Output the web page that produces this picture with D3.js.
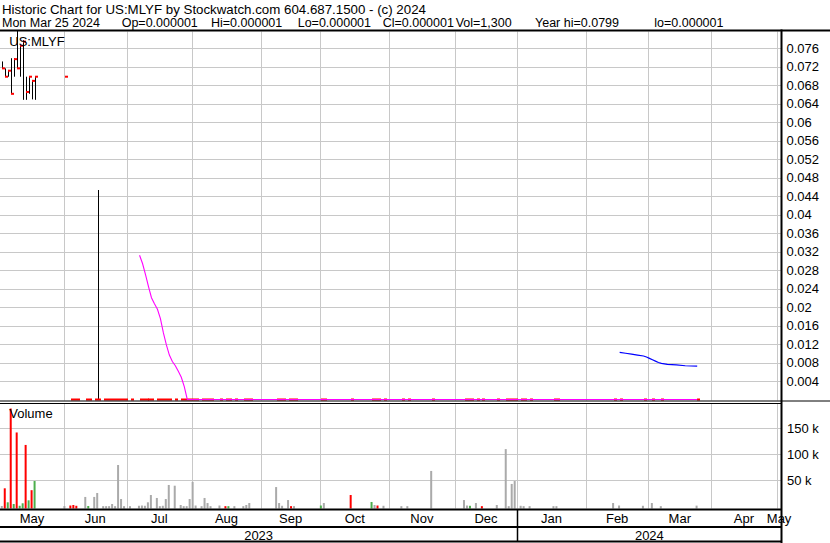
<!DOCTYPE html>
<html><head><meta charset="utf-8">
<script src="https://cdn.jsdelivr.net/npm/d3@7"></script>
<style>
body{margin:0;background:#fff}
svg{display:block}
text{font-family:"Liberation Sans",Arial,sans-serif;fill:#000}
</style>
</head><body>
<svg id="c" width="830" height="543"></svg>
<script>
// ---------------- DATA ----------------
const titleLine1 = "Historic Chart for US:MLYF by Stockwatch.com 604.687.1500 - (c) 2024";
const infoItems = ["Mon Mar 25 2024","Op=0.000001","Hi=0.000001","Lo=0.000001","Cl=0.000001","Vol=1,300","Year hi=0.0799","lo=0.000001"];
const symbolLabel = "US:MLYF";
const volumeLabel = "Volume";

const priceTicks = [0.004,0.008,0.012,0.016,0.02,0.024,0.028,0.032,0.036,0.04,0.044,0.048,0.052,0.056,0.06,0.064,0.068,0.072,0.076];
const volumeTicks = [50000,100000,150000];
const volumeTickLabels = ["50 k","100 k","150 k"];

const monthStarts = ["2023-05-01","2023-06-01","2023-07-01","2023-08-01","2023-09-01","2023-10-01","2023-11-01","2023-12-01","2024-01-01","2024-02-01","2024-03-01","2024-04-01","2024-05-01"];
const monthLabels = ["May","Jun","Jul","Aug","Sep","Oct","Nov","Dec","Jan","Feb","Mar","Apr","May"];
const yearStarts = ["2023-01-01","2024-01-01"];
const yearLabels = ["2023","2024"];

// trading days
const tradeDates = [
 "2023-05-03","2023-05-04","2023-05-05","2023-05-08","2023-05-09","2023-05-10","2023-05-11","2023-05-12",
 "2023-05-15","2023-05-16","2023-05-17","2023-05-18","2023-06-01",
 "2023-06-05","2023-06-06","2023-06-07","2023-06-12","2023-06-13","2023-06-15","2023-06-16",
 "2023-06-20","2023-06-21","2023-06-22","2023-06-23","2023-06-26","2023-06-27","2023-06-28","2023-06-29",
 "2023-07-03","2023-07-06","2023-07-07","2023-07-10","2023-07-11","2023-07-12","2023-07-14","2023-07-17",
 "2023-07-18","2023-07-19","2023-07-20","2023-07-24","2023-07-26","2023-07-27","2023-07-28","2023-07-31",
 "2023-08-01","2023-08-02","2023-08-04","2023-08-07","2023-08-08","2023-08-09","2023-08-14","2023-08-16",
 "2023-08-17","2023-08-21","2023-08-24","2023-08-25","2023-08-28",
 "2023-09-08","2023-09-11","2023-09-12","2023-09-14","2023-09-15","2023-09-18","2023-09-29",
 "2023-10-02","2023-10-13","2023-10-24","2023-10-25","2023-10-26","2023-10-30",
 "2023-11-07","2023-11-09","2023-11-21",
 "2023-12-06","2023-12-07","2023-12-08","2023-12-12","2023-12-14","2023-12-21","2023-12-26","2023-12-27",
 "2023-12-28","2023-12-29",
 "2024-01-02","2024-01-03","2024-01-05","2024-01-17","2024-01-18",
 "2024-02-14","2024-02-16","2024-02-28","2024-03-04","2024-03-07","2024-03-25"
];
const volumes = [
 600,34600,7700,188000,4400,142000,1000,5800,
 118000,11500,31000,48600,500,
 1500,2500,1000,18000,600,18000,25600,
 300,300,300,4400,300,79400,14000,300,
 300,1000,1500,1000,7700,21700,16000,300,
 1000,14000,41000,39600,2500,300,300,14000,
 47000,1500,300,16000,6300,300,1500,300,
 300,300,300,2500,6300,
 37000,6300,1000,12000,300,300,1500,
 6300,21700,8300,2500,1500,1000,
 300,300,68000,
 12000,1500,1000,6300,300,2500,110000,300,
 43000,48600,
 1000,300,300,300,300,
 6300,1500,1000,6300,300,1300
];
// d = down (red), u = up (green), n = unchanged (grey)
const volDir = [
 "n","d","u","d","u","d","u","u",
 "d","u","d","u","n",
 "d","d","d","n","u","n","n",
 "n","n","n","n","n","n","n","n",
 "n","n","n","n","n","n","n","n",
 "n","n","n","n","n","n","n","n",
 "n","n","n","n","n","n","n","d",
 "u","n","n","n","n",
 "n","n","n","n","d","n","u",
 "n","d","u","n","d","n",
 "n","n","n",
 "n","n","u","n","d","n","n","n",
 "n","n",
 "n","n","n","n","n",
 "n","n","n","n","n","n"
];
const F = 0.000001;
const highs = [
 0.0731,0.0716,0.0711,0.0738,0.0738,0.0799,0.0765,0.0777,
 0.0698,0.0698,0.0691,0.0698,0.0698,
 F,F,F,F,F,F,0.0453
];
const lows = [
 0.0716,0.0698,0.0698,0.0661,0.0698,0.0716,0.0698,0.0648,
 0.0648,0.0661,0.0649,0.0648,0.0698,
 F,F,F,F,F,F,F
];
const closes = [
 0.0716,0.0698,0.0711,0.0661,0.0736,0.0716,0.0765,0.0774,
 0.0665,0.0698,0.0689,0.0698,0.0698,
 F,F,F,F,F,F,F
];
// remaining trading days all at 0.000001
const restClose = F;

// moving averages
const maShortDates = ["2023-07-06","2023-07-07","2023-07-10","2023-07-11","2023-07-12","2023-07-13","2023-07-14","2023-07-17","2023-07-18","2023-07-19","2023-07-20","2023-07-21","2023-07-24","2023-07-25","2023-07-26","2023-07-27","2023-07-28","2024-03-25"];
const maShortValues = [0.0312,0.0294,0.0270,0.0244,0.0220,0.0207,0.0195,0.0175,0.0144,0.0118,0.0096,0.0082,0.0073,0.0061,0.0048,0.0028,0.000001,0.000001];
const maLongDates = ["2024-02-16","2024-02-20","2024-02-22","2024-02-26","2024-02-28","2024-02-29","2024-03-01","2024-03-04","2024-03-05","2024-03-06","2024-03-07","2024-03-11","2024-03-14","2024-03-19","2024-03-25"];
const maLongValues = [0.0102,0.0100,0.0098,0.0096,0.0094,0.0092,0.0089,0.0086,0.0083,0.0080,0.0078,0.0076,0.0075,0.0073,0.0072];

// ---------------- HELPERS ----------------
const DAY = 864e5;
const REF = Date.UTC(2023,5,1);
function wdIdx(s){
  const [y,m,d] = s.split("-").map(Number);
  let t = Date.UTC(y,m-1,d);
  let w = new Date(t).getUTCDay();
  while (w===0||w===6){ t -= DAY; w = new Date(t).getUTCDay(); }
  let n = 0;
  if (t >= REF){ for(let c=REF;c<t;c+=DAY){const k=new Date(c).getUTCDay(); if(k!==0&&k!==6) n++;} }
  else { for(let c=t;c<REF;c+=DAY){const k=new Date(c).getUTCDay(); if(k!==0&&k!==6) n--;} }
  return n;
}

// ---------------- LAYOUT ----------------
const L = 0, R = 781.5;
const x = d3.scaleLinear().domain([0,239]).range([64,776.7]);
const y = d3.scaleLinear().domain([0,0.0799]).range([399.5,30]);
const yV = d3.scaleLinear().domain([0,200000]).range([506.3,402.3]);

const svg = d3.select("#c");
const grid = "#c8c8c8";

// title
svg.append("text").attr("x",2).attr("y",13.5).style("font-size","13.3px").text(titleLine1);
const infoX = [2,121.7,211,297.7,382.7,455.7,535,654.3];
svg.append("g").selectAll("text").data(infoItems).join("text")
  .attr("x",(d,i)=>infoX[i]).attr("y",27).style("font-size","12.5px").text(d=>d);

// horizontal grids
svg.append("g").selectAll("line").data(priceTicks).join("line")
  .attr("x1",L).attr("x2",R).attr("y1",d=>Math.round(y(d))+0.5).attr("y2",d=>Math.round(y(d))+0.5)
  .attr("stroke",grid).attr("stroke-width",1);
svg.append("g").selectAll("line").data(volumeTicks).join("line")
  .attr("x1",L).attr("x2",R).attr("y1",d=>Math.round(yV(d))+0.5).attr("y2",d=>Math.round(yV(d))+0.5)
  .attr("stroke",grid).attr("stroke-width",1);

// vertical grids at month starts
const gridMonths = monthStarts.slice(1);
const gx = d=>Math.round(x(wdIdx(d)))+0.5;
svg.append("g").selectAll("line").data(gridMonths).join("line")
  .attr("x1",gx).attr("x2",gx).attr("y1",31.5).attr("y2",400.5).attr("stroke",grid);
svg.append("g").selectAll("line").data(gridMonths).join("line")
  .attr("x1",gx).attr("x2",gx).attr("y1",403.5).attr("y2",508.5).attr("stroke",grid);

// volume bars
const colorOf = {d:"#ff0000",u:"#4cae4c",n:"#aaaaaa"};
svg.append("g").selectAll("rect").data(tradeDates).join("rect")
  .attr("x",d=>x(wdIdx(d))-0.6).attr("width",2)
  .attr("y",(d,i)=>yV(volumes[i]))
  .attr("height",(d,i)=>508.5-yV(volumes[i]))
  .attr("fill",(d,i)=>colorOf[volDir[i]]);

// price bars
const hiOf = i=> i<highs.length?highs[i]:restClose;
const loOf = i=> i<lows.length?lows[i]:restClose;
const clOf = i=> i<closes.length?closes[i]:restClose;
const pg = svg.append("g");
pg.selectAll("line").data(tradeDates.filter((d,i)=>hiOf(i)>loOf(i))).join("line")
  .attr("x1",d=>Math.round(x(wdIdx(d)))+1.5).attr("x2",d=>Math.round(x(wdIdx(d)))+1.5)
  .attr("y1",d=>y(hiOf(tradeDates.indexOf(d))))
  .attr("y2",d=>y(loOf(tradeDates.indexOf(d))))
  .attr("stroke","#000").attr("stroke-width",1);

// moving average lines
const maLine = d3.line().x(d=>x(wdIdx(d[0]))+1).y(d=>y(d[1]));
svg.append("path").datum(maShortDates.map((d,i)=>[d,maShortValues[i]]))
  .attr("d",maLine).attr("fill","none").attr("stroke","#ff00ff").attr("stroke-width",1.1);

// close ticks
pg.append("g").selectAll("rect").data(tradeDates).join("rect")
  .attr("x",d=>Math.round(x(wdIdx(d)))+1).attr("width",3)
  .attr("y",(d,i)=>y(clOf(i))-1).attr("height",2)
  .attr("fill","#ff0000");

svg.append("path").datum(maLongDates.map((d,i)=>[d,maLongValues[i]]))
  .attr("d",maLine).attr("fill","none").attr("stroke","#0000ff").attr("stroke-width",1.2);

// frame lines
const ln = (x1,y1,x2,y2,w)=>svg.append("line").attr("x1",x1).attr("y1",y1).attr("x2",x2).attr("y2",y2).attr("stroke","#000").attr("stroke-width",w);
ln(0,30.5,830,30.5,2);
ln(0,401,830,401,1);
ln(0,403.5,R,403.5,1);
ln(0,509.5,R,509.5,2);
ln(0,527,R,527,2);
ln(0,541.5,R,541.5,2);
ln(R,29.5,R,543,2);
const xJan = Math.round(x(wdIdx("2024-01-01")))+0.5;
ln(xJan,509,xJan,542,1.5);

// axis labels
svg.append("g").selectAll("text").data(priceTicks).join("text")
  .attr("x",786.5).attr("y",d=>y(d)).attr("dy","0.36em").style("font-size","13px")
  .text(d=>d3.format(".3~f")(d));
svg.append("g").selectAll("text").data(volumeTicks).join("text")
  .attr("x",787).attr("y",d=>yV(d)).attr("dy","0.36em").style("font-size","13px")
  .text((d,i)=>volumeTickLabels[i]);

// month labels
svg.append("g").selectAll("text").data(monthLabels).join("text")
  .attr("x",(d,i)=>{
    const a = Math.max(x(wdIdx(monthStarts[i])),0);
    const nxt = i+1<monthStarts.length ? x(wdIdx(monthStarts[i+1])) : x(wdIdx(monthStarts[i]))+70;
    const b = Math.min(nxt,R);
    return (a+b)/2;
  })
  .attr("y",523).attr("text-anchor","middle").style("font-size","13px").text(d=>d);

// year labels
svg.append("g").selectAll("text").data(yearLabels).join("text")
  .attr("x",(d,i)=>{
    const a = Math.max(x(wdIdx(yearStarts[i])),0);
    const b = i+1<yearStarts.length ? x(wdIdx(yearStarts[i+1])) : R;
    return (a+b)/2;
  })
  .attr("y",539.5).attr("text-anchor","middle").style("font-size","13px").text(d=>d);

// panel labels
svg.append("text").attr("x",9.3).attr("y",45.7).style("font-size","13px").text(symbolLabel);
svg.append("text").attr("x",9.3).attr("y",417.7).style("font-size","13px").text(volumeLabel);
</script>
</body></html>
